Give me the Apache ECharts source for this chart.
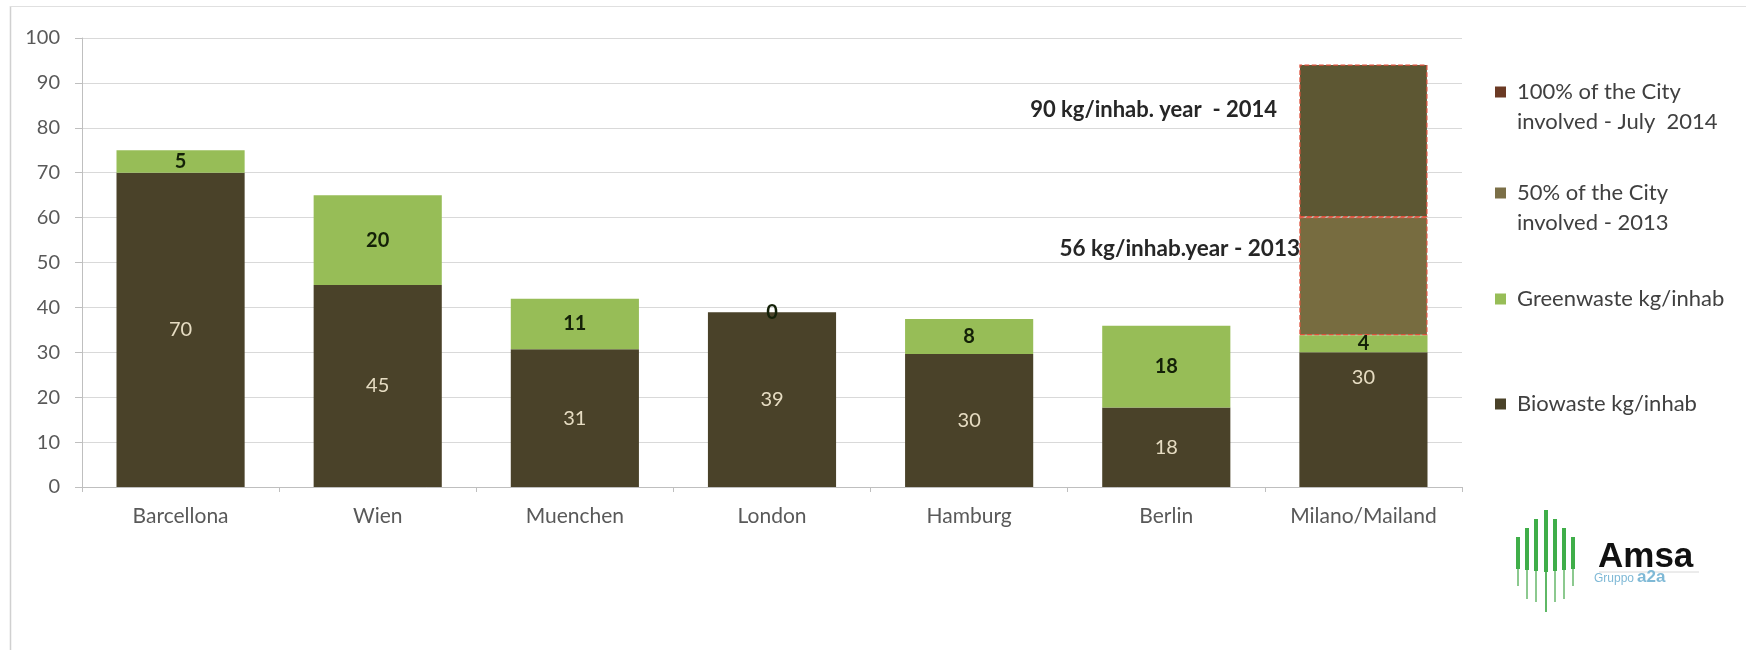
<!DOCTYPE html>
<html>
<head>
<meta charset="utf-8">
<script src="https://cdn.jsdelivr.net/npm/echarts@6/dist/echarts.min.js"></script>
<style>
html,body{margin:0;padding:0;background:#fff;}
#chart{width:1746px;height:650px;}
</style>
</head>
<body>
<div id="chart"></div>
<script>
// ---- data ----
var categories = ['Barcellona', 'Wien', 'Muenchen', 'London', 'Hamburg', 'Berlin', 'Milano/Mailand'];
var biowaste = [70, 45, 30.7, 38.9, 29.6, 17.7, 30];
var greenwaste = [5, 20, 11.2, 0, 7.8, 18.2, 3.8];
var city50 = [null, null, null, null, null, null, 26.3];   // 50% of the City involved - 2013
var city100 = [null, null, null, null, null, null, 34];   // 100% of the City involved - July 2014
var yTicks = {min: 0, max: 100, interval: 10};
var seriesNames = ['Biowaste kg/inhab', 'Greenwaste kg/inhab', '50% of the City involved - 2013', '100% of the City involved - July  2014'];
var annotations = ['90 kg/inhab. year  - 2014', '56 kg/inhab.year - 2013'];

// ---- styles ----
var FONT = 'Lato';
var C_BIO = '#4a4229', C_GREEN = '#97bd57', C_50 = '#776c40', C_100 = '#5d5733';
var C_TXT = '#595959';

var chart = echarts.init(document.getElementById('chart'));

function bioData() {
  return biowaste.map(function (v, i) {
    if (i === 6) return {value: v, label: {offset: [0, -42]}};
    return v;
  });
}
function redBorder(arr) {
  return arr.map(function (v) {
    if (v == null) return v;
    return {value: v, itemStyle: {borderColor: '#e0503c', borderWidth: 1.2, borderType: 'dashed'}};
  });
}

var LH = 30;
function legendFor(name, top, color) {
  return {
    orient: 'vertical', left: 1495, top: top, padding: 0,
    itemWidth: 11, itemHeight: 11, itemGap: 0,
    icon: 'rect', selectedMode: false,
    data: [{name: name, itemStyle: {color: color}}],
    formatter: function (n) {
      // a blank first line keeps the marker level with the first text line
      if (n === seriesNames[3]) return ' \n100% of the City\ninvolved - July  2014';
      if (n === seriesNames[2]) return ' \n50% of the City\ninvolved - 2013';
      return n;
    },
    textStyle: {fontFamily: FONT, fontSize: 22, color: '#404040', lineHeight: LH, padding: [0, 0, 0, 6]}
  };
}

var option = {
  backgroundColor: '#ffffff',
  animation: false,
  grid: {left: 82, right: 284, top: 38, bottom: 163},
  legend: [
    legendFor(seriesNames[3], 92 - 1.5 * LH, '#6b3a24'),
    legendFor(seriesNames[2], 193 - 1.5 * LH, '#7b6f47'),
    legendFor(seriesNames[1], 299 - 0.5 * LH, C_GREEN),
    legendFor(seriesNames[0], 404 - 0.5 * LH, C_BIO)
  ],
  xAxis: {
    type: 'category', data: categories,
    axisLine: {lineStyle: {color: '#bfbfbf', width: 1}},
    axisTick: {show: true, length: 5, lineStyle: {color: '#bfbfbf'}},
    axisLabel: {fontFamily: FONT, fontSize: 21, color: C_TXT, margin: 19}
  },
  yAxis: {
    type: 'value', min: yTicks.min, max: yTicks.max, interval: yTicks.interval,
    axisLine: {show: true, lineStyle: {color: '#bfbfbf'}},
    axisTick: {show: true, length: 7, inside: false, lineStyle: {color: '#bfbfbf'}},
    axisLabel: {fontFamily: FONT, fontSize: 20, color: C_TXT, margin: 22},
    splitLine: {lineStyle: {color: '#d9d9d9', width: 1}}
  },
  series: [
    {
      name: seriesNames[0], type: 'bar', stack: 'total', barWidth: '65%',
      data: bioData(), itemStyle: {color: C_BIO},
      label: {show: true, position: 'inside', fontFamily: FONT, fontSize: 20, color: '#e6dcc2',
        formatter: function (p) { return Math.round(p.value); }}
    },
    {
      name: seriesNames[1], type: 'bar', stack: 'total',
      data: greenwaste, itemStyle: {color: C_GREEN},
      label: {show: true, position: 'inside', fontFamily: FONT, fontSize: 20, fontWeight: 'bold', color: '#142108',
        formatter: function (p) { return Math.round(p.value); }}
    },
    {
      name: seriesNames[2], type: 'bar', stack: 'total',
      data: redBorder(city50), itemStyle: {color: C_50}, label: {show: false}
    },
    {
      name: seriesNames[3], type: 'bar', stack: 'total',
      data: redBorder(city100), itemStyle: {color: C_100}, label: {show: false}
    }
  ],
  graphic: [
    // outer frame lines
    {type: 'line', shape: {x1: 10.5, y1: 6, x2: 10.5, y2: 650}, style: {stroke: '#d0d0d0', lineWidth: 1.5}},
    {type: 'line', shape: {x1: 10, y1: 6.5, x2: 1746, y2: 6.5}, style: {stroke: '#e0e0e0', lineWidth: 1}},
    // annotations
    {type: 'text', x: 1277, y: 110, style: {text: annotations[0], fontFamily: FONT, fontSize: 22, fontWeight: 'bold', fill: '#262626', align: 'right', verticalAlign: 'middle'}},
    {type: 'text', x: 1300, y: 249, style: {text: annotations[1], fontFamily: FONT, fontSize: 22.5, fontWeight: 'bold', fill: '#262626', align: 'right', verticalAlign: 'middle'}},
    // logo
    {type: 'group', left: 1516, top: 510, children: [
      {type: 'rect', shape: {x: 3, y: 28, width: 4, height: 32}, style: {fill: '#3fae49'}},
      {type: 'rect', shape: {x: 12, y: 19, width: 4, height: 42}, style: {fill: '#3fae49'}},
      {type: 'rect', shape: {x: 21, y: 10, width: 4, height: 52}, style: {fill: '#3fae49'}},
      {type: 'rect', shape: {x: 31, y: 1, width: 4, height: 62}, style: {fill: '#3fae49'}},
      {type: 'rect', shape: {x: 40, y: 10, width: 4, height: 52}, style: {fill: '#3fae49'}},
      {type: 'rect', shape: {x: 49, y: 19, width: 4, height: 42}, style: {fill: '#3fae49'}},
      {type: 'rect', shape: {x: 58, y: 28, width: 4, height: 32}, style: {fill: '#3fae49'}},
      {type: 'rect', shape: {x: 4, y: 60, width: 2, height: 17}, style: {fill: '#8cc98f'}},
      {type: 'rect', shape: {x: 13, y: 61, width: 2, height: 29}, style: {fill: '#8cc98f'}},
      {type: 'rect', shape: {x: 22, y: 62, width: 2, height: 31}, style: {fill: '#8cc98f'}},
      {type: 'rect', shape: {x: 32, y: 63, width: 2, height: 40}, style: {fill: '#5fb866'}},
      {type: 'rect', shape: {x: 41, y: 62, width: 2, height: 31}, style: {fill: '#8cc98f'}},
      {type: 'rect', shape: {x: 50, y: 61, width: 2, height: 29}, style: {fill: '#8cc98f'}},
      {type: 'rect', shape: {x: 59, y: 60, width: 2, height: 17}, style: {fill: '#8cc98f'}},
      {type: 'text', x: 85, y: 31, style: {text: 'Amsa', fontFamily: 'Liberation Sans', fontSize: 35, fontWeight: 'bold', fill: '#111111'}},
      {type: 'line', shape: {x1: 86, y1: 63, x2: 186, y2: 63}, style: {stroke: '#d8d8d8', lineWidth: 1}},
      {type: 'text', x: 81, y: 64, style: {text: 'Gruppo', fontFamily: 'Liberation Sans', fontSize: 12, fill: '#7fb9d6'}},
      {type: 'text', x: 124, y: 60, style: {text: 'a2a', fontFamily: 'Liberation Sans', fontSize: 17, fontWeight: 'bold', fill: '#7fb9d6'}}
    ]}
  ]
};
chart.setOption(option);
</script>
</body>
</html>
